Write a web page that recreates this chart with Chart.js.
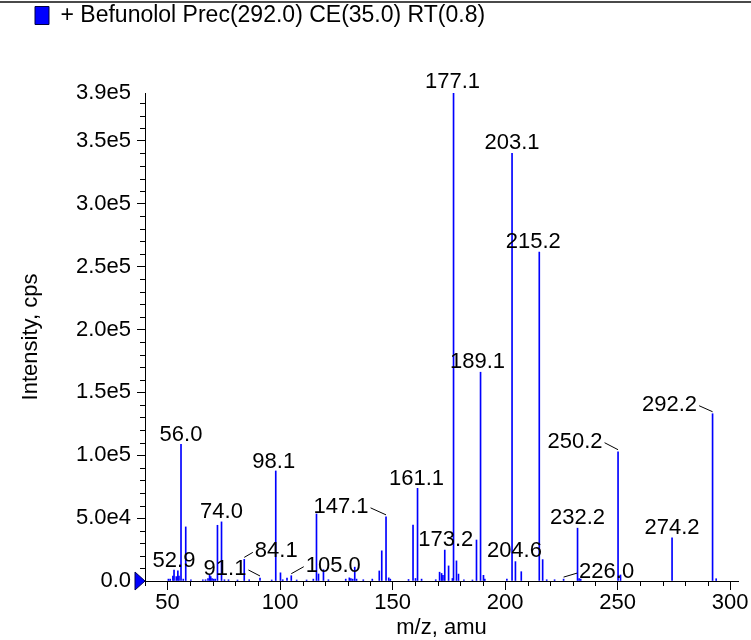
<!DOCTYPE html>
<html>
<head>
<meta charset="utf-8">
<title>Befunolol product ion spectrum</title>
<script src="https://cdn.jsdelivr.net/npm/chart.js@4.4.0/dist/chart.umd.min.js"></script>
<style>
  html, body { margin: 0; padding: 0; background: #fff; }
  #wrap { position: relative; width: 751px; height: 640px; }
</style>
</head>
<body>
<div id="wrap"><canvas id="spectrum" width="751" height="640"></canvas></div>
<script>
// Peaks: m/z and intensity (cps)
const mzValues = [
  50.4, 51.2, 52.4, 52.9, 53.9, 54.6, 55.1, 56.0, 57.0, 58.1,
  60.4, 65.7, 66.9, 68.0, 68.7, 69.2, 69.8, 70.5, 71.2, 72.2,
  74.0, 75.3, 77.1, 81.1, 84.1, 86.3, 91.1, 96.3, 98.1, 100.2,
  101.2, 103.1, 105.0, 107.4, 111.8, 114.8, 116.2, 117.1, 119.3, 121.5,
  129.2, 130.8, 131.5, 132.3, 133.2, 134.0, 137.0, 141.0, 144.1, 145.2,
  147.1, 148.3, 149.0, 157.1, 159.1, 160.2, 161.1, 162.9, 169.2, 170.9,
  171.8, 172.4, 173.2, 174.9, 176.6, 177.1, 178.4, 179.3, 181.7, 185.5,
  187.3, 189.1, 190.4, 191.0, 200.8, 203.1, 204.6, 207.2, 215.2, 216.7,
  218.5, 222.0, 226.0, 232.2, 232.9, 233.6, 250.2, 251.3, 274.2, 292.2,
  293.8
];
const intensities = [
  1500, 1500, 4000, 8700, 3500, 8000, 4000, 108700, 1500, 43000,
  1000, 1000, 1000, 2000, 4800, 3500, 2000, 1500, 1500, 44300,
  47000, 1000, 1000, 800, 17200, 1000, 2400, 800, 87500, 6500,
  1000, 2400, 4200, 800, 800, 1500, 53300, 5600, 9000, 1000,
  1500, 2500, 2000, 1500, 11000, 1500, 1000, 1500, 8000, 24000,
  51000, 2500, 1500, 1200, 44500, 2000, 73700, 1500, 1000, 7000,
  6000, 4500, 24600, 12000, 2000, 388000, 16000, 5500, 1000, 800,
  32600, 166000, 4500, 1500, 1500, 340000, 15400, 7400, 261500, 17000,
  1000, 1000, 1500, 42000, 2000, 1500, 102800, 4800, 34400, 133000,
  1800
];

// Peaks that carry an m/z label
const labelledPeaks = [52.9, 56.0, 74.0, 84.1, 91.1, 98.1, 105.0, 147.1, 161.1, 173.2,
  177.1, 189.1, 203.1, 204.6, 215.2, 226.0, 232.2, 250.2, 274.2, 292.2];

// Axis ticks
const xTicks = [50, 100, 150, 200, 250, 300];
const yTicks = [0, 50000, 100000, 150000, 200000, 250000, 300000, 350000, 388000];

const seriesName = '+ Befunolol Prec(292.0) CE(35.0) RT(0.8)';

// where each label sits relative to the top of its peak: [text centre dx, baseline dy]
const labelOffsets = {
  '52.9': [0, -3], '56.0': [0, -3], '74.0': [0, -4], '84.1': [32, -2],
  '91.1': [-35, -3], '98.1': [-2, -3], '105.0': [42, -4], '147.1': [-45, -4],
  '161.1': [-1, -3], '173.2': [1, -4], '177.1': [-1, -5], '189.1': [-3, -4],
  '203.1': [0, -4], '204.6': [-1, -5], '215.2': [-6, -4], '226.0': [43, -1],
  '232.2': [0, -4], '250.2': [-43, -4], '274.2': [0, -4], '292.2': [-43, -3]
};

const FONT = '"Liberation Sans", Arial, Helvetica, sans-serif';
Chart.defaults.font.family = FONT;
Chart.defaults.color = '#000';

function fmtIntensity(v) {
  if (v === 0) return '0.0';
  return v.toExponential(1).replace('e+', 'e');
}

// frame line, minor ticks, baseline marker and peak labels
const spectrumDecor = {
  id: 'spectrumDecor',
  beforeDraw(chart) {
    const ctx = chart.ctx;
    ctx.save();
    ctx.fillStyle = '#4a4a4a';
    ctx.fillRect(0, 1, chart.width, 2);
    ctx.restore();
  },
  afterDraw(chart) {
    const { ctx, chartArea, scales: { x, y } } = chart;
    ctx.save();

    // minor ticks
    ctx.strokeStyle = '#000';
    ctx.lineWidth = 1;
    ctx.beginPath();
    for (let v = 10000; v < y.max; v += 10000) {
      if (v % 50000 === 0) continue;
      const py = Math.round(y.getPixelForValue(v)) + 0.5;
      ctx.moveTo(chartArea.left - 5, py);
      ctx.lineTo(chartArea.left, py);
    }
    for (let v = Math.ceil(x.min / 10) * 10; v <= x.max; v += 10) {
      if (v % 50 === 0) continue;
      const px = Math.round(x.getPixelForValue(v)) + 0.5;
      ctx.moveTo(px, chartArea.bottom);
      ctx.lineTo(px, chartArea.bottom + 5);
    }
    ctx.stroke();

    // baseline marker
    const y0 = y.getPixelForValue(0);
    ctx.fillStyle = '#0000ff';
    ctx.strokeStyle = '#000050';
    ctx.beginPath();
    ctx.moveTo(chartArea.left - 10, y0 - 9);
    ctx.lineTo(chartArea.left, y0);
    ctx.lineTo(chartArea.left - 10, y0 + 9);
    ctx.closePath();
    ctx.fill();
    ctx.stroke();

    // peak labels
    ctx.font = '22px ' + FONT;
    ctx.fillStyle = '#000';
    ctx.strokeStyle = '#000';
    ctx.textAlign = 'center';
    ctx.textBaseline = 'alphabetic';
    labelledPeaks.forEach(mz => {
      const i = mzValues.indexOf(mz);
      const text = mz.toFixed(1);
      const px = x.getPixelForValue(mz);
      const top = y.getPixelForValue(intensities[i]);
      const [dx, dy] = labelOffsets[text];
      const tx = px + dx, ty = top + dy;
      ctx.fillText(text, tx, ty);
      if (Math.abs(dx) > 10) {
        const half = ctx.measureText(text).width / 2;
        const ex = dx < 0 ? tx + half + 2 : tx - half - 2;
        ctx.beginPath();
        ctx.moveTo(px, top - 2);
        ctx.lineTo(ex, ty - 5);
        ctx.stroke();
      }
    });
    ctx.restore();
  }
};

new Chart(document.getElementById('spectrum'), {
  type: 'bar',
  data: {
    datasets: [{
      label: seriesName,
      data: mzValues.map((m, i) => ({ x: m, y: intensities[i] })),
      backgroundColor: '#0000ff',
      borderWidth: 0,
      barThickness: 1,
      grouped: false
    }]
  },
  options: {
    responsive: false,
    animation: false,
    events: [],
    layout: { padding: { top: -6, left: 25, right: 13, bottom: 0 } },
    plugins: {
      legend: {
        position: 'top',
        align: 'start',
        labels: {
          boxWidth: 14,
          boxHeight: 18,
          padding: 10,
          color: '#000',
          font: { size: 23 },
          generateLabels: () => [{
            text: seriesName,
            fillStyle: '#0000ff',
            strokeStyle: '#000040',
            lineWidth: 1,
            hidden: false,
            datasetIndex: 0
          }]
        }
      },
      // empty block that keeps the plot below the legend
      title: { display: true, text: '', weight: 500, padding: { top: 0, bottom: 41.6 } },
      tooltip: { enabled: false }
    },
    scales: {
      x: {
        type: 'linear',
        min: 40,
        max: 303.5,
        offset: false,
        afterBuildTicks: s => { s.ticks = xTicks.map(v => ({ value: v })); },
        afterFit: s => { s.height = 59; },
        grid: { offset: false, drawOnChartArea: false, tickLength: 9, tickColor: '#000' },
        border: { color: '#000' },
        ticks: { color: '#000', font: { size: 22 }, padding: 0, maxRotation: 0, autoSkip: false },
        title: { display: true, text: 'm/z, amu', color: '#000', font: { size: 22 }, padding: { bottom: -1 } }
      },
      y: {
        min: 0,
        max: 388000,
        afterBuildTicks: s => { s.ticks = yTicks.map(v => ({ value: v })); },
        afterFit: s => { s.width = 120; },
        grid: {
          drawOnChartArea: false,
          tickLength: 8,
          tickColor: c => (c.tick && c.tick.value === 388000 ? 'rgba(0,0,0,0)' : '#000')
        },
        border: { color: '#000' },
        ticks: { color: '#000', font: { size: 22 }, padding: 6, autoSkip: false, callback: v => fmtIntensity(v) },
        title: { display: true, text: 'Intensity, cps', color: '#000', font: { size: 22 }, padding: { top: -7 } }
      }
    }
  },
  plugins: [spectrumDecor]
});
</script>
</body>
</html>
